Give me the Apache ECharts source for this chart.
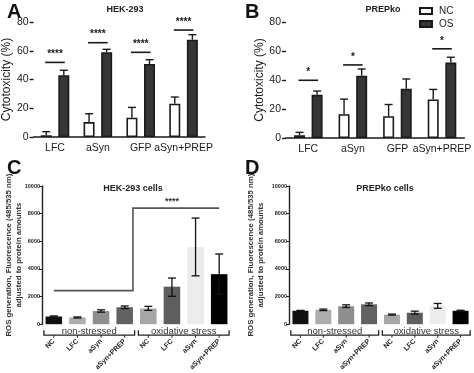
<!DOCTYPE html>
<html><head><meta charset="utf-8">
<script src="https://cdn.jsdelivr.net/npm/echarts@6/dist/echarts.min.js"></script>
<style>html,body{margin:0;padding:0;background:#fff}#c{width:474px;height:373px}</style>
</head><body><div id="c"></div>
<script>
// ---- data ----
const catsAB = ['LFC', 'aSyn', 'GFP', 'aSyn+PREP'];
const aNC = [1.2, 10.4, 13.4, 23.2];
const aNCErr = [3.7, 16.2, 20.6, 27.8];
const aOS = [42.9, 58.9, 50.8, 67.7];
const aOSErr = [46.4, 61.0, 53.8, 71.2];
const aSig = [51.9, 65.6, 58.9, 74.4];
const aSigText = ['****', '****', '****', '****'];
const bNC = [1.9, 16.4, 15.0, 26.6];
const bNCErr = [3.9, 26.8, 23.1, 33.5];
const bOS = [29.8, 43.0, 34.0, 52.0];
const bOSErr = [32.4, 47.6, 40.7, 55.7];
const bSig = [39.8, 50.4, null, 61.5];
const bSigText = ['*', '*', '', '*'];
const catsCD = ['NC', 'LFC', 'aSyn', 'aSyn+PREP', 'NC', 'LFC', 'aSyn', 'aSyn+PREP'];
const groupNames = ['non-stressed', 'oxidative stress'];
const groupStart = [0, 4];
const groupEnd = [3, 7];
const cMean = [557, 487, 951, 1230, 1137, 2715, 5590, 3620];
const cLow = [510, 450, 870, 1130, 1000, 2020, 3500, 2160];
const cHigh = [600, 525, 1040, 1320, 1290, 3340, 7680, 5080];
const dMean = [972, 1040, 1300, 1440, 694, 833, 1330, 972];
const dLow = [940, 985, 1210, 1345, 660, 730, 1150, 930];
const dHigh = [1000, 1095, 1400, 1535, 730, 945, 1500, 1010];
const cSigLow = 2430, cSigHigh = 8400, cSigText = '****';
const barColorsCD = ['#111111', '#adadad', '#8e8e8e', '#626262', '#a6a6a6', '#5e5e5e', '#ececec', '#000000'];

// ---- helpers ----
const BW = 11, GAP = 0.6, OFF = (BW + BW * GAP) / 2;
const ink = '#1a1a1a';

function errUp(sign) {
  return function (params, api) {
    const b = api.coord([api.value(0), api.value(1)]);
    const t = api.coord([api.value(0), api.value(2)]);
    const cx = b[0] + sign * OFF;
    return { type: 'group', children: [
      { type: 'line', shape: { x1: cx, y1: b[1], x2: cx, y2: t[1] }, style: { stroke: ink, lineWidth: 1.4 } },
      { type: 'line', shape: { x1: cx - 4, y1: t[1], x2: cx + 4, y2: t[1] }, style: { stroke: ink, lineWidth: 1.4 } }
    ]};
  };
}
function sigRender(texts) {
  return function (params, api) {
    const p = api.coord([api.value(0), api.value(1)]);
    return { type: 'group', children: [
      { type: 'line', shape: { x1: p[0] - OFF - 1, y1: p[1], x2: p[0] + OFF + 1, y2: p[1] }, style: { stroke: ink, lineWidth: 1.6 } },
      { type: 'text', style: { text: texts[params.dataIndex], x: p[0], y: p[1] - 3, textAlign: 'center', textVerticalAlign: 'bottom', fill: ink, font: 'bold 10px Arial' } }
    ]};
  };
}
function errBoth(params, api) {
  const l = api.coord([api.value(0), api.value(1)]);
  const h = api.coord([api.value(0), api.value(2)]);
  const cx = l[0];
  const st = { stroke: '#111', lineWidth: 1.3 };
  return { type: 'group', children: [
    { type: 'line', shape: { x1: cx, y1: l[1], x2: cx, y2: h[1] }, style: st },
    { type: 'line', shape: { x1: cx - 4, y1: l[1], x2: cx + 4, y2: l[1] }, style: st },
    { type: 'line', shape: { x1: cx - 4, y1: h[1], x2: cx + 4, y2: h[1] }, style: st }
  ]};
}
function bracket(params, api) {
  const s = api.coord([api.value(0), 0]);
  const e = api.coord([api.value(1), 0]);
  const bw = api.size([1, 0])[0];
  const x1 = s[0] - bw * 0.42, x2 = e[0] + bw * 0.42, y = s[1] + 11;
  const st = { stroke: '#222', lineWidth: 1.3, fill: null };
  const ch = [
    { type: 'polyline', shape: { points: [[x1, y - 5], [x1, y], [x2, y], [x2, y - 5]] }, style: st },
    { type: 'text', style: { text: groupNames[params.dataIndex], x: (x1 + x2) / 2, y: y + 1, textAlign: 'center', textVerticalAlign: 'bottom', fill: '#333', font: '9.5px Arial' } }
  ];
  for (let i = api.value(0); i <= api.value(1); i++) {
    const c = api.coord([i, 0]);
    ch.push({ type: 'line', shape: { x1: c[0], y1: y, x2: c[0], y2: y + 2.5 }, style: { stroke: '#222', lineWidth: 1 } });
  }
  return { type: 'group', children: ch };
}
function sigC(params, api) {
  const a = api.coord([0, cSigLow]);
  const m1 = api.coord([3, cSigLow]);
  const m2 = api.coord([4, cSigHigh]);
  const e = api.coord([7, cSigHigh]);
  const xm = m1[0] + (m2[0] - m1[0]) * 0.35;
  return { type: 'group', children: [
    { type: 'polyline', shape: { points: [[a[0], a[1]], [xm, a[1]], [xm, m2[1]], [e[0], e[1]]] }, style: { stroke: '#555', lineWidth: 1.6, fill: null } },
    { type: 'text', style: { text: cSigText, x: (xm + e[0]) / 2 - 4, y: m2[1] - 2, textAlign: 'center', textVerticalAlign: 'bottom', fill: '#333', font: 'bold 9px Arial' } }
  ]};
}

const axisAB = {
  axisLine: { lineStyle: { color: ink, width: 1.6 } },
  axisTick: { show: true, length: 4, lineStyle: { color: ink, width: 1.4 } },
  axisLabel: { color: ink, fontSize: 10.5, fontFamily: 'Arial', margin: 5 },
  splitLine: { show: false }
};
function yAB(gi) {
  return Object.assign({}, axisAB, {
    gridIndex: gi, type: 'value', min: 0, max: 80, interval: 20,
    name: 'Cytotoxicity (%)', nameLocation: 'middle', nameGap: 20, nameRotate: 90,
    nameTextStyle: { color: ink, fontSize: 12, fontFamily: 'Arial' }
  });
}
function xAB(gi) {
  return Object.assign({}, axisAB, { gridIndex: gi, type: 'category', data: catsAB, axisTick: { show: false }, axisLabel: { color: ink, fontSize: 10.5, fontFamily: 'Arial', margin: 6, interval: 0 } });
}
function yCD(gi, gap) {
  return {
    gridIndex: gi, type: 'value', min: 0, max: 10000, interval: 2000,
    axisLine: { show: true, lineStyle: { color: '#222', width: 1.4 } },
    axisTick: { show: true, length: 3, lineStyle: { color: '#222' } },
    axisLabel: { color: '#222', fontSize: 5.5, fontWeight: 'bold', fontFamily: 'Arial', margin: 2, formatter: v => String(v) },
    splitLine: { show: false },
    name: 'ROS generation, Fluorescence (485/535 nm)\nadjusted to protein amounts',
    nameLocation: 'middle', nameGap: gap, nameRotate: 90, nameMoveOverlap: false,
    nameTextStyle: { color: '#333', fontSize: 7.8, fontWeight: 'bold', fontFamily: 'Arial', lineHeight: 10 }
  };
}
function xCD(gi) {
  return {
    gridIndex: gi, type: 'category', data: catsCD,
    axisLine: { show: false }, axisTick: { show: false },
    axisLabel: { color: '#222', fontSize: 7, fontWeight: 'bold', fontFamily: 'Arial', rotate: 45, margin: 16, interval: 0 }
  };
}
const idx4 = [0, 1, 2, 3];
const idx8 = [0, 1, 2, 3, 4, 5, 6, 7];

const option = {
  animation: false,
  backgroundColor: '#fff',
  title: [
    { text: 'HEK-293', left: 120, top: 0, textAlign: 'center', textStyle: { fontSize: 9, fontWeight: 'bold', color: '#222', fontFamily: 'Arial' } },
    { text: 'PREPko', left: 378, top: 0, textAlign: 'center', textStyle: { fontSize: 9, fontWeight: 'bold', color: '#222', fontFamily: 'Arial' } },
    { text: 'HEK-293 cells', left: 128, top: 179, textAlign: 'center', textStyle: { fontSize: 9, fontWeight: 'bold', color: '#222', fontFamily: 'Arial' } },
    { text: 'PREPko cells', left: 380, top: 179, textAlign: 'center', textStyle: { fontSize: 9, fontWeight: 'bold', color: '#222', fontFamily: 'Arial' } }
  ],
  graphic: [
    { type: 'text', left: 7, top: 2, style: { text: 'A', font: 'bold 20px Arial', fill: '#111' } },
    { type: 'text', left: 245, top: 2, style: { text: 'B', font: 'bold 20px Arial', fill: '#111' } },
    { type: 'text', left: 7, top: 158, style: { text: 'C', font: 'bold 20px Arial', fill: '#111' } },
    { type: 'text', left: 245, top: 158, style: { text: 'D', font: 'bold 20px Arial', fill: '#111' } }
  ],
  legend: {
    data: ['NC', 'OS'], orient: 'vertical', left: 414, top: 1, itemWidth: 12, itemHeight: 6, itemGap: 3,
    icon: 'rect', textStyle: { fontSize: 10, color: '#222', fontFamily: 'Arial', padding: [0, 0, 0, 2] }
  },
  grid: [
    { left: 32, top: 22, width: 173, height: 115 },
    { left: 286, top: 22, width: 181, height: 116 },
    { left: 42, top: 186, width: 189, height: 144 },
    { left: 289, top: 186, width: 183, height: 144 }
  ],
  xAxis: [xAB(0), xAB(1), xCD(2), xCD(3)],
  yAxis: [yAB(0), yAB(1), yCD(2, 18), yCD(3, 23)],
  series: [
    { name: 'NC', type: 'bar', xAxisIndex: 0, yAxisIndex: 0, data: aNC, barWidth: BW, barGap: '60%', itemStyle: { color: '#fff', borderColor: ink, borderWidth: 1.6 } },
    { name: 'OS', type: 'bar', xAxisIndex: 0, yAxisIndex: 0, data: aOS, barWidth: BW, barGap: '60%', itemStyle: { color: '#363636', borderColor: ink, borderWidth: 1.6 } },
    { type: 'custom', xAxisIndex: 0, yAxisIndex: 0, renderItem: errUp(-1), data: idx4.map(i => [i, aNC[i], aNCErr[i]]), z: 5 },
    { type: 'custom', xAxisIndex: 0, yAxisIndex: 0, renderItem: errUp(1), data: idx4.map(i => [i, aOS[i], aOSErr[i]]), z: 5 },
    { type: 'custom', xAxisIndex: 0, yAxisIndex: 0, renderItem: sigRender(aSigText), data: idx4.map(i => [i, aSig[i]]), z: 5 },

    { name: 'NC', type: 'bar', xAxisIndex: 1, yAxisIndex: 1, data: bNC, barWidth: BW, barGap: '60%', itemStyle: { color: '#fff', borderColor: ink, borderWidth: 1.6 } },
    { name: 'OS', type: 'bar', xAxisIndex: 1, yAxisIndex: 1, data: bOS, barWidth: BW, barGap: '60%', itemStyle: { color: '#363636', borderColor: ink, borderWidth: 1.6 } },
    { type: 'custom', xAxisIndex: 1, yAxisIndex: 1, renderItem: errUp(-1), data: idx4.map(i => [i, bNC[i], bNCErr[i]]), z: 5 },
    { type: 'custom', xAxisIndex: 1, yAxisIndex: 1, renderItem: errUp(1), data: idx4.map(i => [i, bOS[i], bOSErr[i]]), z: 5 },
    { type: 'custom', xAxisIndex: 1, yAxisIndex: 1, renderItem: sigRender(idx4.filter(i => bSig[i] != null).map(i => bSigText[i])), data: idx4.filter(i => bSig[i] != null).map(i => [i, bSig[i]]), z: 5 },

    { type: 'bar', xAxisIndex: 2, yAxisIndex: 2, barWidth: '70%', data: cMean.map((v, i) => ({ value: v, itemStyle: { color: barColorsCD[i] } })) },
    { type: 'custom', xAxisIndex: 2, yAxisIndex: 2, renderItem: errBoth, data: idx8.map(i => [i, cLow[i], cHigh[i]]), z: 5 },
    { type: 'custom', xAxisIndex: 2, yAxisIndex: 2, renderItem: bracket, data: [0, 1].map(g => [groupStart[g], groupEnd[g]]), clip: false, z: 5 },
    { type: 'custom', xAxisIndex: 2, yAxisIndex: 2, renderItem: sigC, data: [[0, cSigLow]], z: 5 },

    { type: 'bar', xAxisIndex: 3, yAxisIndex: 3, barWidth: '70%', data: dMean.map((v, i) => ({ value: v, itemStyle: { color: barColorsCD[i] } })) },
    { type: 'custom', xAxisIndex: 3, yAxisIndex: 3, renderItem: errBoth, data: idx8.map(i => [i, dLow[i], dHigh[i]]), z: 5 },
    { type: 'custom', xAxisIndex: 3, yAxisIndex: 3, renderItem: bracket, data: [0, 1].map(g => [groupStart[g], groupEnd[g]]), clip: false, z: 5 }
  ]
};
const chart = echarts.init(document.getElementById('c'), null, { renderer: 'canvas' });
chart.setOption(option);
</script>
</body></html>
